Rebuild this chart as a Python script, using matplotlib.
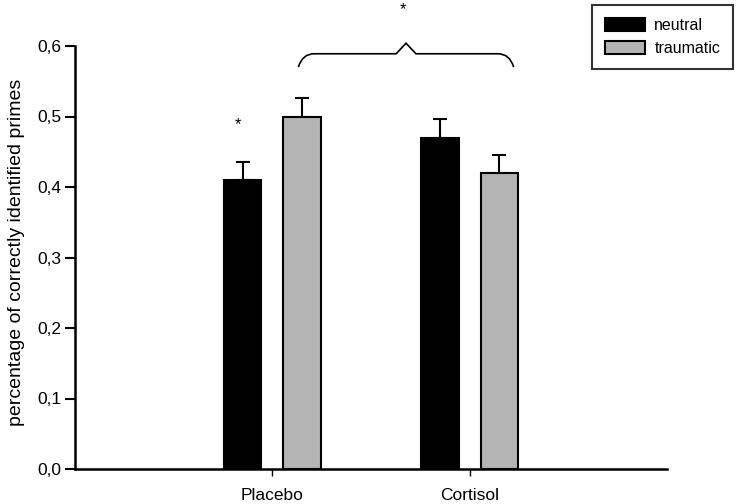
import matplotlib
matplotlib.use("Agg")
import matplotlib.pyplot as plt
import numpy as np
from matplotlib.path import Path
from matplotlib.patches import PathPatch

plt.rcParams['font.family'] = ['Liberation Sans', 'DejaVu Sans']

groups = ['Placebo', 'Cortisol']
neutral = [0.41, 0.47]
traumatic = [0.50, 0.42]
neutral_err = [0.025, 0.026]
traumatic_err = [0.026, 0.026]
yticks = [0.0, 0.1, 0.2, 0.3, 0.4, 0.5, 0.6]
ytick_labels = ['0,0', '0,1', '0,2', '0,3', '0,4', '0,5', '0,6']

x = np.array([1, 2])
w = 0.19
off = 0.15

fig = plt.figure(figsize=(7.39, 5.04), dpi=100)
ax = fig.add_axes([75 / 739, 35 / 504, 592 / 739, 423 / 504])

ax.bar(x - off, neutral, w, color='black', edgecolor='black', linewidth=1.5,
       label='neutral', zorder=2)
ax.bar(x + off, traumatic, w, color='#b4b4b4', edgecolor='black', linewidth=1.5,
       label='traumatic', zorder=2)
ax.errorbar(x - off, neutral, yerr=[np.zeros(2), neutral_err], fmt='none',
            ecolor='black', elinewidth=1.5, capsize=5, capthick=1.5, zorder=1)
ax.errorbar(x + off, traumatic, yerr=[np.zeros(2), traumatic_err], fmt='none',
            ecolor='black', elinewidth=1.5, capsize=5, capthick=1.5, zorder=1)

ax.set_xlim(0, 3)
ax.set_ylim(0, 0.6)
ax.set_xticks(x)
ax.set_xticklabels(groups, fontsize=12.5)
ax.set_yticks(yticks)
ax.set_yticklabels(ytick_labels, fontsize=12.5)
ax.set_ylabel('percentage of correctly identified primes', fontsize=14)
ax.yaxis.set_label_coords(-50 / 592, 0.511)

for s in ['top', 'right']:
    ax.spines[s].set_visible(False)
for s in ['left', 'bottom']:
    ax.spines[s].set_linewidth(1.8)
ax.tick_params(axis='y', direction='out', length=7, width=1.5, pad=3)
ax.tick_params(axis='x', direction='out', length=5, width=1, pad=9)

# significance star over placebo neutral
ax.text(x[0] - off - 0.025, 0.488, '*', ha='center', va='center', fontsize=12)

# curly bracket between conditions
x0, x1 = 1.132, 2.223
xm = (x0 + x1) / 2
yb, yh, yp = 0.570, 0.589, 0.604
verts = [(x0, yb), (x0 + 0.02, yh), (x0 + 0.08, yh),
         (xm - 0.05, yh),
         (xm, yp),
         (xm + 0.05, yh),
         (x1 - 0.08, yh), (x1 - 0.02, yh), (x1, yb)]
codes = [Path.MOVETO, Path.CURVE3, Path.CURVE3,
         Path.LINETO, Path.LINETO, Path.LINETO,
         Path.LINETO, Path.CURVE3, Path.CURVE3]
ax.add_patch(PathPatch(Path(verts, codes), fill=False, edgecolor='black',
                       linewidth=1.2, clip_on=False))
ax.text(xm - 0.015, 0.652, '*', ha='center', va='center', fontsize=12,
        clip_on=False)

leg = fig.legend(loc='upper left', bbox_to_anchor=(592 / 739, 1 - 5 / 504),
                 fontsize=11.5, frameon=True, fancybox=False, handlelength=2.5,
                 handleheight=0.9, borderpad=0.8, labelspacing=0.5,
                 handletextpad=0.6, borderaxespad=0)
leg.get_frame().set_edgecolor('black')
leg.get_frame().set_linewidth(1.5)

fig.savefig('out.png', dpi=100)
